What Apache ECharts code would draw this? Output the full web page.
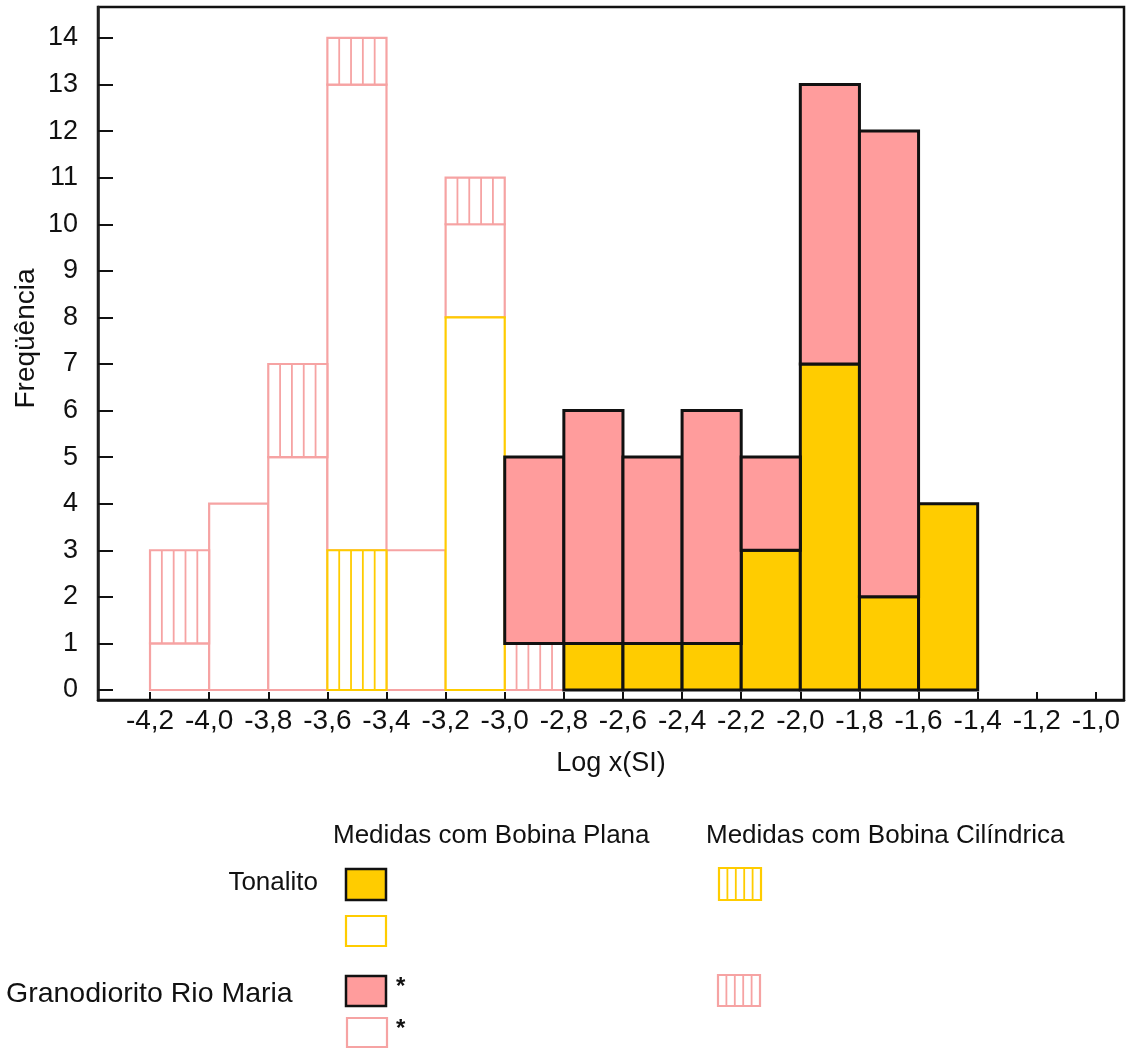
<!DOCTYPE html>
<html>
<head>
<meta charset="utf-8">
<script src="https://cdn.jsdelivr.net/npm/echarts@6/dist/echarts.min.js"></script>
<style>html,body{margin:0;padding:0;background:#fff;}#chart{width:1131px;height:1050px;}</style>
</head>
<body>
<div id="chart"></div>
<script>
// ---- data ----
const binStarts = [-4.2,-4.0,-3.8,-3.6,-3.4,-3.2,-3.0,-2.8,-2.6,-2.4,-2.2,-2.0,-1.8,-1.6];
const binWidth = 0.2;
const tonalitoPlanaFilled = [0,0,0,0,0,0,0,1,1,1,3,7,2,4];
const tonalitoPlanaOpen   = [0,0,0,0,0,8,0,0,0,0,0,0,0,0];
const tonalitoCilindrica  = [0,0,0,3,0,0,0,0,0,0,0,0,0,0];
const granoPlanaOpen      = [1,4,5,10,3,2,0,0,0,0,0,0,0,0];
const granoCilindrica     = [2,0,2,1,0,1,1,0,0,0,0,0,0,0];
const granoPlanaFilled    = [0,0,0,0,0,0,4,5,4,5,2,6,10,0];
const xTicks = [-4.2,-4.0,-3.8,-3.6,-3.4,-3.2,-3.0,-2.8,-2.6,-2.4,-2.2,-2.0,-1.8,-1.6,-1.4,-1.2,-1.0];
const yTicks = [0,1,2,3,4,5,6,7,8,9,10,11,12,13,14];

const YELLOW = '#FFCC00';
const PINK = '#FF9C9C';
const PINK_LINE = '#F6A3A3';
const FONT = 'Liberation Sans, Arial, sans-serif';

// stacking order within each bin (bottom -> top)
const stackOrder = [
  {key:'tonFilled', vals: tonalitoPlanaFilled},
  {key:'tonOpen', vals: tonalitoPlanaOpen},
  {key:'tonCil', vals: tonalitoCilindrica},
  {key:'granoOpen', vals: granoPlanaOpen},
  {key:'granoCil', vals: granoCilindrica},
  {key:'granoFilled', vals: granoPlanaFilled}
];
const segs = {};
stackOrder.forEach(s => segs[s.key] = []);
binStarts.forEach((x0, i) => {
  let base = 0;
  stackOrder.forEach(s => {
    const v = s.vals[i];
    if (v > 0) {
      segs[s.key].push([x0, x0 + binWidth, base, base + v]);
      base += v;
    }
  });
});

const styles = {
  granoOpen:   {fill:'#fff', stroke:PINK_LINE, lw:2.2, hatch:false},
  granoCil:    {fill:'#fff', stroke:PINK_LINE, lw:2.2, hatch:true},
  tonOpen:     {fill:'#fff', stroke:YELLOW, lw:2.2, hatch:false},
  tonCil:      {fill:'#fff', stroke:YELLOW, lw:2.2, hatch:true},
  tonFilled:   {fill:YELLOW, stroke:'#111', lw:3, hatch:false},
  granoFilled: {fill:PINK, stroke:'#111', lw:3, hatch:false}
};

function makeRender(st) {
  return function (params, api) {
    const p0 = api.coord([api.value(0), api.value(3)]);
    const p1 = api.coord([api.value(1), api.value(2)]);
    const x = p0[0], y = p0[1], w = p1[0] - p0[0], h = p1[1] - p0[1];
    const children = [{
      type:'rect', shape:{x:x, y:y, width:w, height:h},
      style:{fill:st.fill, stroke:st.stroke, lineWidth:st.lw}
    }];
    if (st.hatch) {
      for (let k = 1; k < 5; k++) {
        const xx = x + w * k / 5;
        children.push({type:'line', shape:{x1:xx, y1:y, x2:xx, y2:y + h},
          style:{stroke:st.stroke, lineWidth:1.8}});
      }
    }
    return {type:'group', children:children};
  };
}

const drawOrder = ['granoOpen','granoCil','tonOpen','tonCil','tonFilled','granoFilled'];
const series = drawOrder.map((k, i) => ({
  type:'custom', name:k, renderItem: makeRender(styles[k]),
  encode:{x:[0,1], y:[2,3]}, data: segs[k], z: 2 + i, silent:true
}));

// legend drawing helpers
function legendBox(x, y, w, h, fill, stroke, lw, hatch) {
  const arr = [{type:'rect', shape:{x:x, y:y, width:w, height:h}, style:{fill:fill, stroke:stroke, lineWidth:lw}}];
  if (hatch) {
    for (let k = 1; k < 5; k++) {
      const xx = x + w * k / 5;
      arr.push({type:'line', shape:{x1:xx, y1:y, x2:xx, y2:y + h}, style:{stroke:stroke, lineWidth:1.8}});
    }
  }
  return arr;
}
function txt(x, y, s, align, size, weight) {
  return {type:'text', x:x, y:y, style:{text:s, font: (weight || 'normal') + ' ' + size + 'px ' + FONT, fill:'#111', align:align, verticalAlign:'middle'}};
}
const graphics = [].concat(
  [txt(333, 836, 'Medidas com Bobina Plana', 'left', 26),
   txt(706, 836, 'Medidas com Bobina Cilíndrica', 'left', 26),
   txt(318, 883, 'Tonalito', 'right', 26),
   txt(6, 994, 'Granodiorito Rio Maria', 'left', 28.5),
   txt(396, 987, '*', 'left', 24, 'bold'),
   txt(396, 1029, '*', 'left', 24, 'bold')],
  legendBox(346, 869, 40, 31, YELLOW, '#111', 2.5, false),
  legendBox(346, 916, 40, 30, '#fff', YELLOW, 2.2, false),
  legendBox(346, 976, 40, 30, PINK, '#111', 2.5, false),
  legendBox(347, 1018, 40, 29, '#fff', PINK_LINE, 2.2, false),
  legendBox(719, 868, 42, 32, '#fff', YELLOW, 2.2, true),
  legendBox(718, 975, 42, 31, '#fff', PINK_LINE, 2.2, true)
);

const fmt = v => (Math.round(v * 10) / 10).toFixed(1).replace('.', ',');

const chart = echarts.init(document.getElementById('chart'), null, {renderer:'canvas'});
chart.setOption({
  backgroundColor:'#fff',
  animation:false,
  grid:{left:98, top:7, right:7, bottom:350, show:true, borderColor:'#111', borderWidth:2.5, backgroundColor:'transparent'},
  xAxis:{
    type:'value', min:-4.376, max:-0.905,
    name:'Log x(SI)', nameLocation:'middle', nameGap:50,
    nameTextStyle:{fontSize:27, color:'#111', fontFamily:FONT},
    axisLine:{show:true, onZero:false, lineStyle:{color:'#111', width:2.5}},
    axisTick:{show:true, inside:true, length:8, lineStyle:{color:'#111', width:2}, customValues:xTicks},
    axisLabel:{fontSize:28, color:'#111', fontFamily:FONT, margin:7, customValues:xTicks, formatter:fmt},
    splitLine:{show:false}
  },
  yAxis:{
    type:'value', min:-0.215, max:14.665,
    name:'Freqüência', nameLocation:'middle', nameGap:58, nameRotate:90, nameMoveOverlap:false,
    nameTextStyle:{fontSize:28, color:'#111', fontFamily:FONT, padding:[0,0,0,30]},
    axisLine:{show:true, onZero:false, lineStyle:{color:'#222', width:2.5}},
    axisTick:{show:true, inside:true, length:15, lineStyle:{color:'#111', width:2}, customValues:yTicks},
    axisLabel:{fontSize:27, color:'#111', fontFamily:FONT, margin:20, customValues:yTicks},
    splitLine:{show:false}
  },
  graphic: graphics,
  series: series
});
</script>
</body>
</html>
